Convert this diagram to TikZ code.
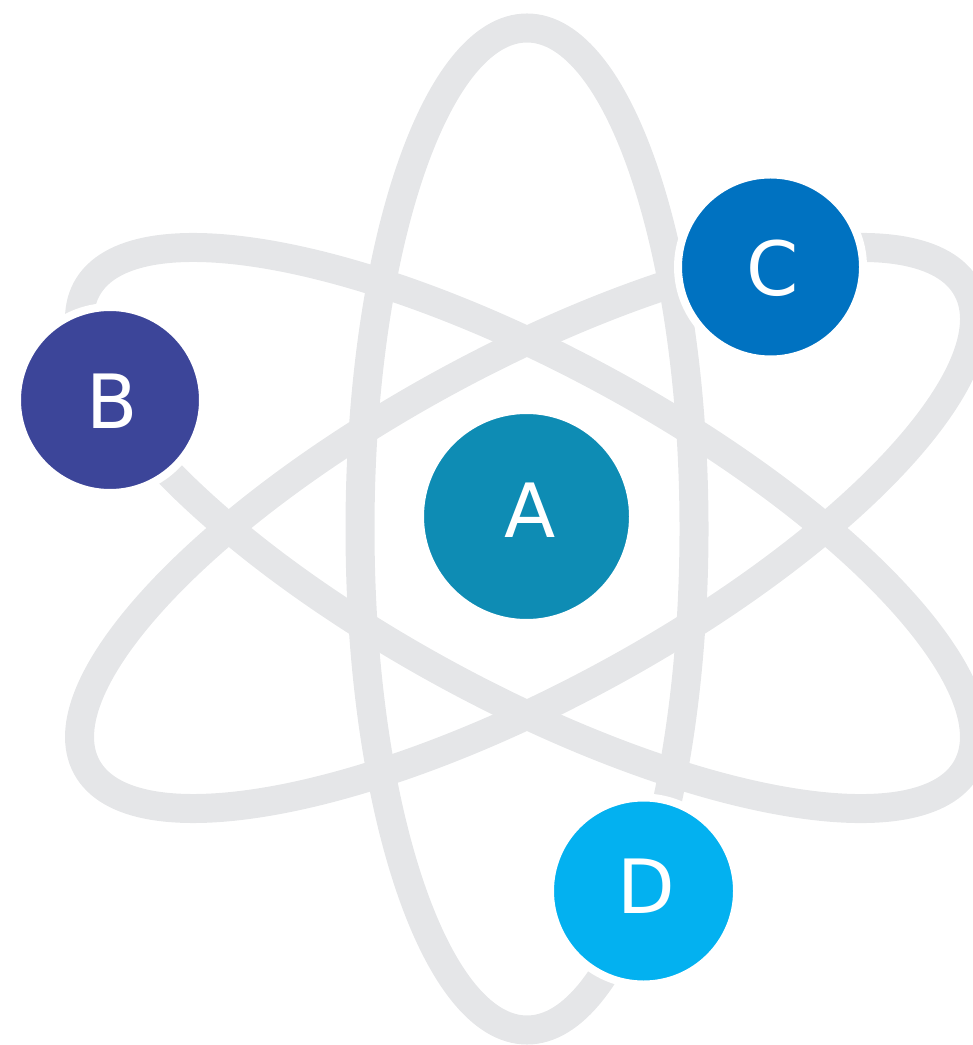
\documentclass[tikz,border=0pt]{standalone}
\usepackage{fontspec}
\setmainfont{DejaVu Sans}
\definecolor{orbitgray}{HTML}{E5E6E8}
\definecolor{colA}{HTML}{0E8CB4}
\definecolor{colB}{HTML}{3C4599}
\definecolor{colC}{HTML}{0072C1}
\definecolor{colD}{HTML}{03B1F0}
\tikzset{
  orbit/.style={draw=orbitgray, line width=2.9mm},
  ball/.style={circle, draw=white, line width=0.8mm, inner sep=0pt},
  letter/.style={text=white, inner sep=0pt, font=\fontsize{21.3}{25}\selectfont}
}
\begin{document}
\begin{tikzpicture}[x=0.1mm, y=-0.1mm]
  \useasboundingbox (0,0) rectangle (973,1045);
  % three orbits: one upright ellipse and two tilted copies of it
  \coordinate (nucleus) at (527,529);
  \coordinate (tilted) at (527,528);
  \draw[orbit] (nucleus) ellipse [x radius=167, y radius=501];
  \draw[orbit, rotate around={61.5:(tilted)}] (tilted) ellipse [x radius=167, y radius=501];
  \draw[orbit, rotate around={-61.5:(tilted)}] (tilted) ellipse [x radius=167, y radius=501];
  % nucleus and electrons
  \node[ball, fill=colA, minimum size=21.3mm] (a) at (526.5,516.5) {};
  \node[ball, fill=colB, minimum size=18.6mm] (b) at (110,400) {};
  \node[ball, fill=colC, minimum size=18.5mm] (c) at (770.5,267) {};
  \node[ball, fill=colD, minimum size=18.7mm] (d) at (643.5,891) {};
  \node[letter] (ta) at (530,510) {A};
  \node[letter] (tb) at (112.5,401) {B};
  \node[letter] (tc) at (772.5,268.5) {C};
  \node[letter] (td) at (646,886) {D};
\end{tikzpicture}
\end{document}
